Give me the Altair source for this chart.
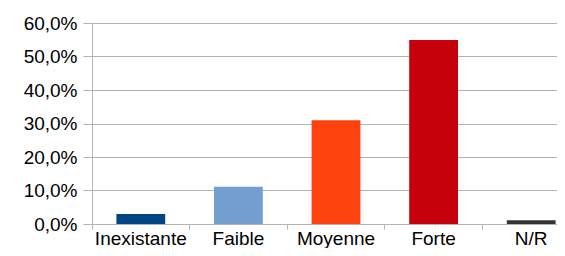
import altair as alt
import pandas as pd

categories = ["Inexistante", "Faible", "Moyenne", "Forte", "N/R"]
values = [0.030, 0.111, 0.310, 0.549, 0.011]
colors = ["#004586", "#729fcf", "#ff420e", "#c5000b", "#333333"]
y_ticks = [0.0, 0.1, 0.2, 0.3, 0.4, 0.5, 0.6]

df = pd.DataFrame({"cat": categories, "val": values})

chart = alt.Chart(df).mark_bar(width=alt.RelativeBandSize(0.5)).encode(
    x=alt.X("cat:N", sort=categories,
            scale=alt.Scale(range=[0, 488], paddingInner=0, paddingOuter=0),
            axis=alt.Axis(title=None, bandPosition=0, tickSize=5, tickColor="#b3b3b3",
                          domain=False, labelPadding=0, labelFontSize=19,
                          labelColor="#000000", labelAngle=0, grid=False,
                          labelFont="Liberation Sans")),
    y=alt.Y("val:Q", scale=alt.Scale(domain=[0, 0.6], nice=False),
            axis=alt.Axis(title=None, values=y_ticks, tickSize=9, tickColor="#b3b3b3",
                          domainColor="#b3b3b3", gridColor="#b3b3b3", grid=True,
                          labelPadding=6, labelFontSize=19, labelColor="#000000",
                          labelFont="Liberation Sans",
                          labelExpr="replace(format(datum.value, '.1%'), '.', ',')")),
    color=alt.Color("cat:N", scale=alt.Scale(domain=categories, range=colors), legend=None),
).properties(
    width=465, height=201,
    autosize=alt.AutoSizeParams(type="none"),
    padding={"left": 84, "top": 15, "right": 0, "bottom": 24},
).configure_view(stroke=None)

chart.save("out.html", embed_options={"renderer": "svg", "actions": False})
